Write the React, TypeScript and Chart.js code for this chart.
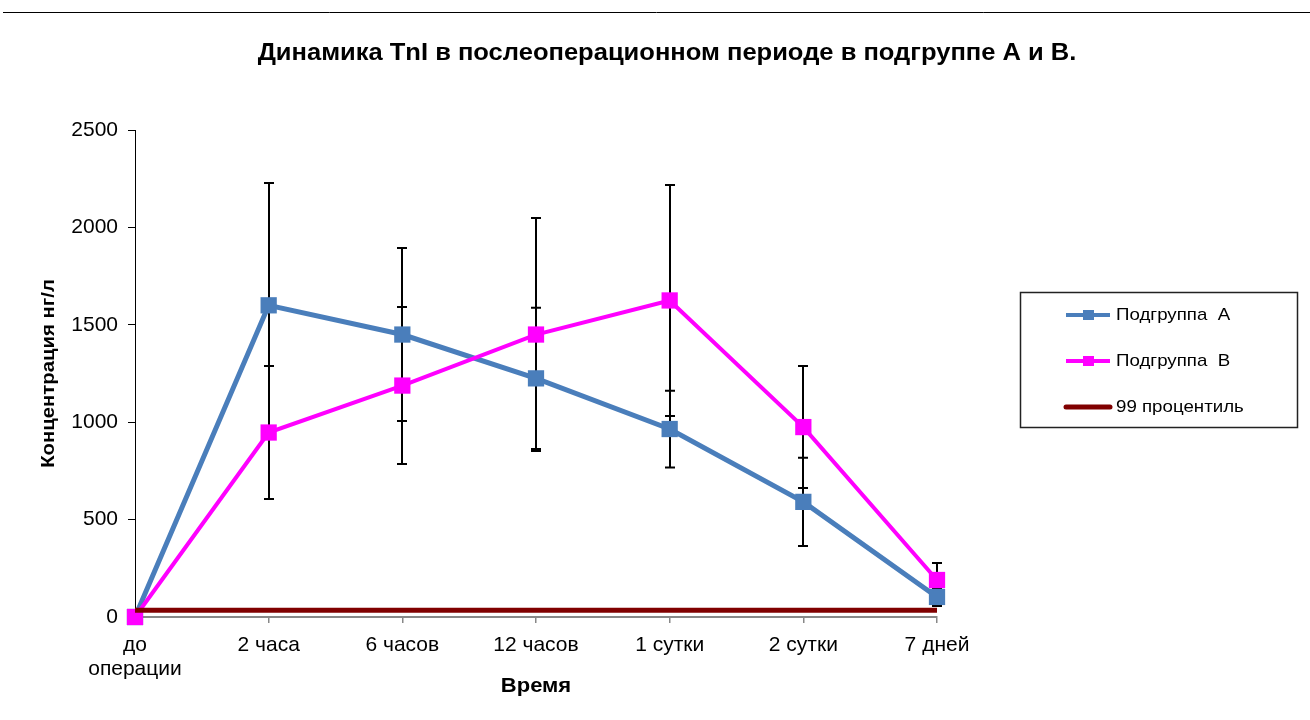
import React, { useEffect, useRef } from "react";
import { Chart, registerables } from "chart.js";

Chart.register(...registerables);

const categories: (string | string[])[] = [["до", "операции"], "2 часа", "6 часов", "12 часов", "1 сутки", "2 сутки", "7 дней"];
const subgroupA = [0, 1600, 1450, 1225, 965, 591, 103];
const errorA = [0, 628, 444, 363, 197, 227, 46];
const subgroupB = [0, 947, 1188, 1450, 1625, 975, 190];
const errorB = [0, 341, 403, 598, 593, 313, 87];
const percentile99 = [35, 35, 35, 35, 35, 35, 35];
const yTickValues = [0, 500, 1000, 1500, 2000, 2500];
const chartTitle = "Динамика TnI в послеоперационном периоде в подгруппе А и В.";
const xAxisTitle = "Время";
const yAxisTitle = "Концентрация нг/л";
const legendLabels = ["Подгруппа  А", "Подгруппа  В", "99 процентиль"];

const COLOR_A = "#4A7EBB";
const COLOR_B = "#FF00FF";
const COLOR_P = "#800000";
const FONT = "'Liberation Sans', Arial, sans-serif";

function stretchText(ctx: CanvasRenderingContext2D, text: string, x: number, y: number, font: string, align: CanvasTextAlign, sx = 1.08, rot = 0) {
  ctx.save();
  ctx.translate(x, y);
  if (rot) ctx.rotate(rot);
  ctx.scale(sx, 1);
  ctx.font = font;
  ctx.fillStyle = "#000";
  ctx.textAlign = align;
  ctx.textBaseline = "middle";
  ctx.fillText(text, 0, 0);
  ctx.restore();
}

const errorBarPlugin = {
  id: "errorBars",
  beforeDatasetsDraw(chart: any) {
    const { ctx } = chart;
    const x = chart.scales.x;
    const y = chart.scales.y;
    ctx.save();
    ctx.strokeStyle = "#000";
    ctx.lineWidth = 2;
    const groups: [number[], number[]][] = [
      [subgroupA, errorA],
      [subgroupB, errorB],
    ];
    groups.forEach(([vals, errs]) => {
      vals.forEach((v, i) => {
        const e = errs[i];
        if (!e) return;
        const px = Math.round(x.getPixelForValue(i));
        const top = y.getPixelForValue(v + e);
        const bot = y.getPixelForValue(v - e);
        ctx.beginPath();
        ctx.moveTo(px, top);
        ctx.lineTo(px, bot);
        ctx.moveTo(px - 5, top);
        ctx.lineTo(px + 5, top);
        ctx.moveTo(px - 5, bot);
        ctx.lineTo(px + 5, bot);
        ctx.stroke();
      });
    });
    ctx.restore();
  },
};

const decorPlugin = {
  id: "decor",
  afterDraw(chart: any) {
    const { ctx, chartArea } = chart;
    ctx.save();
    ctx.strokeStyle = "#000";
    ctx.lineWidth = 1;
    ctx.beginPath();
    ctx.moveTo(3, 12.5);
    ctx.lineTo(1310, 12.5);
    ctx.stroke();
    ctx.restore();

    stretchText(ctx, chartTitle, 667, 54, `bold 23px ${FONT}`, "center", 1.11);
    stretchText(ctx, xAxisTitle, (chartArea.left + chartArea.right) / 2, 686, `bold 20px ${FONT}`, "center", 1.1);
    stretchText(ctx, yAxisTitle, 49, (chartArea.top + chartArea.bottom) / 2, `bold 19px ${FONT}`, "center", 1.07, -Math.PI / 2);

    ctx.save();
    ctx.strokeStyle = "#222";
    ctx.lineWidth = 1.5;
    ctx.strokeRect(1020.5, 292.5, 277, 135);
    const rows = [315, 361, 407];
    const colors = [COLOR_A, COLOR_B, COLOR_P];
    rows.forEach((ry, i) => {
      ctx.strokeStyle = colors[i];
      ctx.lineWidth = i === 2 ? 5 : 4;
      ctx.lineCap = i === 2 ? "round" : "butt";
      ctx.beginPath();
      ctx.moveTo(1066, ry);
      ctx.lineTo(1110, ry);
      ctx.stroke();
      if (i < 2) {
        ctx.fillStyle = colors[i];
        ctx.fillRect(1083, ry - 5, 11, 10);
      }
      stretchText(ctx, legendLabels[i], 1116, ry, `17px ${FONT}`, "left", 1.1);
    });
    ctx.restore();
  },
};

export default function App() {
  const canvasRef = useRef<HTMLCanvasElement | null>(null);

  useEffect(() => {
    if (!canvasRef.current) return;
    const chart = new Chart(canvasRef.current, {
      type: "line",
      data: {
        labels: categories as any,
        datasets: [
          {
            label: legendLabels[0],
            data: subgroupA,
            borderColor: COLOR_A,
            backgroundColor: COLOR_A,
            borderWidth: 5,
            pointStyle: "rect",
            pointRadius: 11.5,
            pointBorderWidth: 0,
            pointBackgroundColor: COLOR_A,
            tension: 0,
            clip: false as any,
            order: 2,
          },
          {
            label: legendLabels[1],
            data: subgroupB,
            borderColor: COLOR_B,
            backgroundColor: COLOR_B,
            borderWidth: 4,
            pointStyle: "rect",
            pointRadius: 11.5,
            pointBorderWidth: 0,
            pointBackgroundColor: COLOR_B,
            tension: 0,
            clip: false as any,
            order: 1,
          },
          {
            label: legendLabels[2],
            data: percentile99,
            borderColor: COLOR_P,
            backgroundColor: COLOR_P,
            borderWidth: 5,
            pointRadius: 0,
            tension: 0,
            clip: false as any,
            order: 0,
          },
        ],
      },
      options: {
        responsive: false,
        animation: false,
        devicePixelRatio: 1,
        layout: { padding: { left: 0, top: 130, right: 373, bottom: 0 } },
        plugins: {
          legend: { display: false },
          title: { display: false },
          tooltip: { enabled: false },
        },
        scales: {
          x: {
            type: "category",
            offset: false,
            grid: {
              display: true,
              drawOnChartArea: false,
              drawTicks: true,
              tickLength: 6,
              color: "#888",
              lineWidth: 1.5,
            },
            border: { display: true, color: "#888", width: 2 },
            ticks: {
              color: "#000",
              font: { family: FONT, size: 21, lineHeight: 1.15 },
              padding: 10,
              maxRotation: 0,
              autoSkip: false,
            },
            afterFit: (scale: any) => {
              scale.height = 103;
            },
          },
          y: {
            type: "linear",
            min: 0,
            max: 2500,
            afterBuildTicks: (scale: any) => {
              scale.ticks = yTickValues.map((v) => ({ value: v }));
            },
            grid: {
              display: true,
              drawOnChartArea: false,
              drawTicks: true,
              tickLength: 7,
              color: "#000",
              lineWidth: 1,
            },
            border: { display: true, color: "#000", width: 1 },
            ticks: {
              color: "#000",
              font: { family: FONT, size: 21 },
              padding: 10,
              callback: (v: any) => String(v),
            },
            afterFit: (scale: any) => {
              scale.width = 135;
            },
          },
        },
      },
      plugins: [errorBarPlugin, decorPlugin],
    });
    return () => chart.destroy();
  }, []);

  return (
    <div style={{ position: "fixed", left: 0, top: 0, width: 1310, height: 720, background: "#fff" }}>
      <canvas ref={canvasRef} width={1310} height={720} style={{ width: 1310, height: 720, display: "block" }} />
    </div>
  );
}
